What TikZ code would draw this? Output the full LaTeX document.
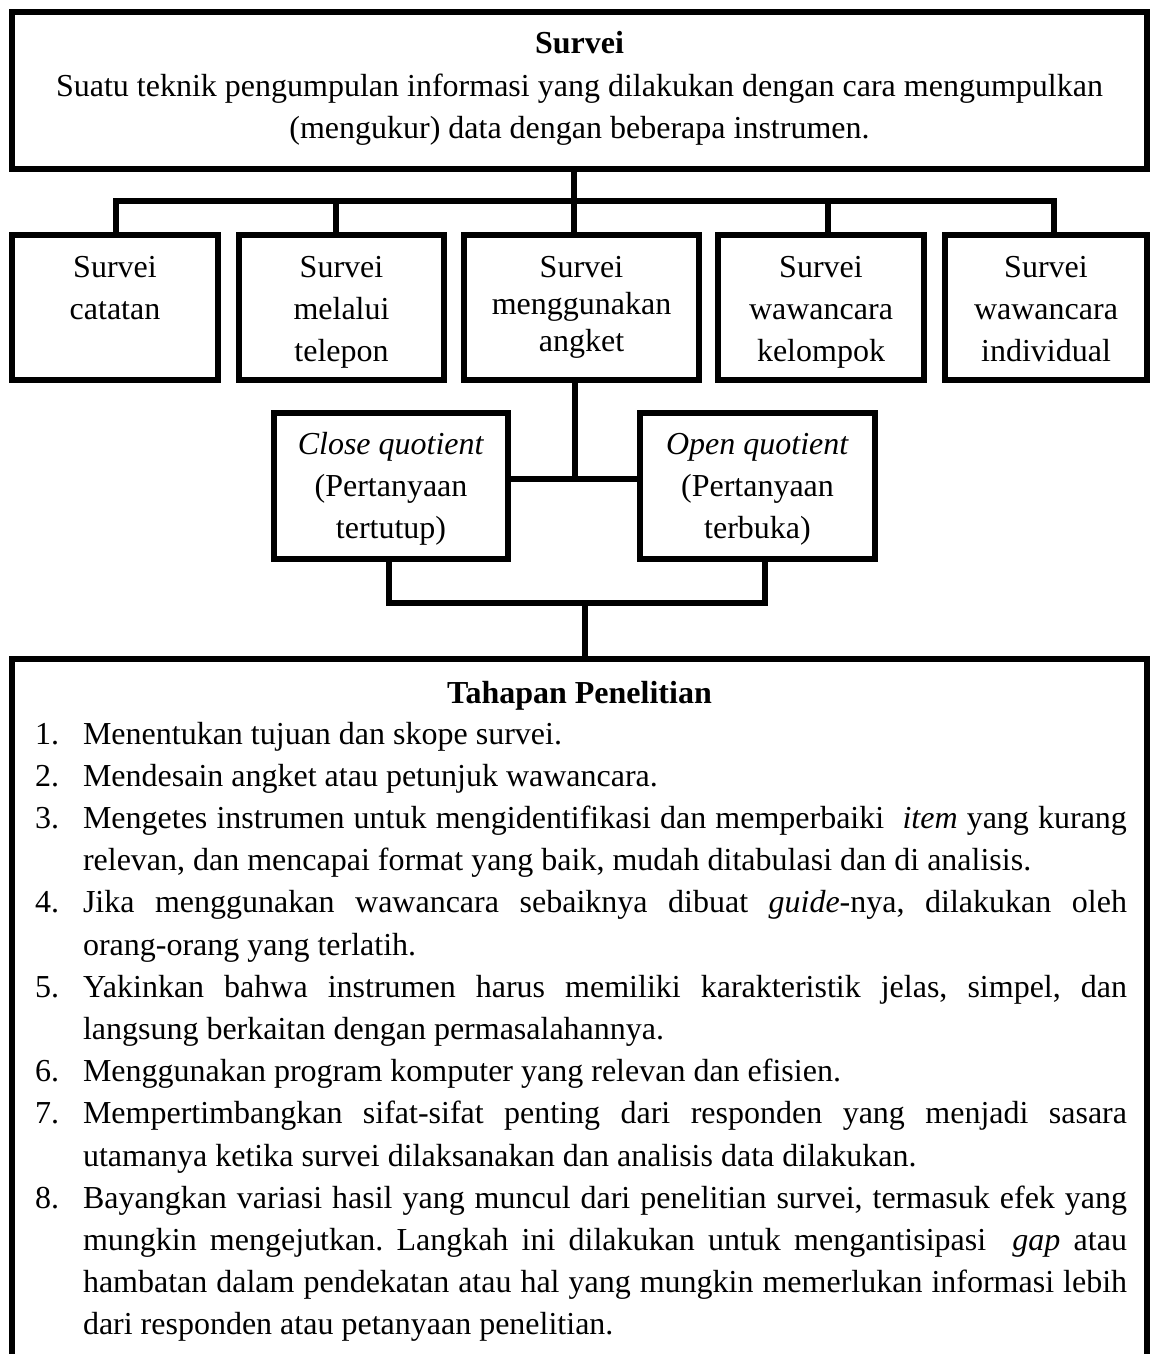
\documentclass[tikz,border=0pt]{standalone}
\usepackage{fontspec}
\setmainfont{Liberation Serif}
\frenchspacing
\tikzset{
  frame/.style={draw, line width=6pt, rectangle, inner sep=0pt, outer sep=0pt},
  conn/.style={draw, line width=6pt, line join=miter},
  lbl/.style={inner sep=0pt, outer sep=0pt, anchor=base, font=\fontsize{32}{42.2}\selectfont},
}
\begin{document}
\begin{tikzpicture}[x=1pt,y=-1pt]
\clip (0,0) rectangle (1150,1354);
\fill[white] (0,0) rectangle (1150,1354);

% boxes
\node[frame, minimum width=1135pt, minimum height=157pt] (survei) at (579.5,90.5) {};
\node[frame, minimum width=206pt, minimum height=145pt] (b1) at (115,307.5) {};
\node[frame, minimum width=205pt, minimum height=145pt] (b2) at (341.5,307.5) {};
\node[frame, minimum width=235pt, minimum height=145pt] (b3) at (581.5,307.5) {};
\node[frame, minimum width=206pt, minimum height=145pt] (b4) at (821,307.5) {};
\node[frame, minimum width=202pt, minimum height=145pt] (b5) at (1046,307.5) {};
\node[frame, minimum width=234pt, minimum height=146pt] (cq) at (391,486) {};
\node[frame, minimum width=235pt, minimum height=146pt] (oq) at (757.5,486) {};
\node[inner sep=0pt, outer sep=0pt, minimum width=1135pt, minimum height=701pt] (bot) at (579.5,1009.5) {};
\draw[conn] (bot.south west) -- (bot.north west) -- (bot.north east) -- (bot.south east);

% connectors
\coordinate (d1) at (116,201);
\coordinate (d2) at (336,201);
\coordinate (d3) at (574,201);
\coordinate (d4) at (828,201);
\coordinate (d5) at (1054,201);
\draw[conn] (b1.north -| d1) -- (d1) -- (d5) -- (b5.north -| d5);
\draw[conn] (survei.south -| d3) -- (b3.north -| d3);
\draw[conn] (d2) -- (b2.north -| d2);
\draw[conn] (d4) -- (b4.north -| d4);

\coordinate (m) at (575,479);
\draw[conn] (b3.south -| m) -- (m);
\draw[conn] (cq.east |- m) -- (oq.west |- m);

\coordinate (jl) at (389,603);
\coordinate (jr) at (765,603);
\coordinate (jc) at (585,603);
\draw[conn] (cq.south -| jl) -- (jl) -- (jr) -- (oq.south -| jr);
\draw[conn] (jc) -- (bot.north -| jc);

% texts
\node[lbl] (tsurvei) at (579.5,54) {\parbox[t]{1130pt}{\centering\textbf{Survei}\\Suatu teknik pengumpulan informasi yang dilakukan dengan cara mengumpulkan\\(mengukur) data dengan beberapa instrumen.}};
\node[lbl] (t1) at (115,277) {\parbox[t]{200pt}{\centering Survei\\catatan}};
\node[lbl] (t2) at (341.5,277) {\parbox[t]{200pt}{\centering Survei\\melalui\\telepon}};
\node[lbl] (t3) at (581.5,277) {\parbox[t]{230pt}{\centering\baselineskip=37pt Survei\\menggunakan\\angket}};
\node[lbl] (t4) at (821,277) {\parbox[t]{200pt}{\centering Survei\\wawancara\\kelompok}};
\node[lbl] (t5) at (1046,277) {\parbox[t]{200pt}{\centering Survei\\wawancara\\individual}};
\node[lbl] (tcq) at (391,454) {\parbox[t]{230pt}{\centering\textit{Close quotient}\\(Pertanyaan\\tertutup)}};
\node[lbl] (toq) at (757.5,454) {\parbox[t]{230pt}{\centering\textit{Open quotient}\\(Pertanyaan\\terbuka)}};

\node[lbl] (ttitle) at (579.5,703) {\textbf{Tahapan Penelitian}};
\node[lbl, anchor=base west] (tlist) at (35,744) {\parbox[t]{1092pt}{%
\hyphenpenalty=10000 \exhyphenpenalty=10000 \tolerance=10000 \parindent=0pt \parskip=0pt
\hangindent=48pt\hangafter=1\makebox[48pt][l]{1.}Menentukan tujuan dan skope survei.\par
\hangindent=48pt\hangafter=1\makebox[48pt][l]{2.}Mendesain angket atau petunjuk wawancara.\par
\hangindent=48pt\hangafter=1\makebox[48pt][l]{3.}Mengetes instrumen untuk mengidentifikasi dan memperbaiki\ \ \textit{item} yang kurang\linebreak relevan, dan mencapai format yang baik, mudah ditabulasi dan di analisis.\par
\hangindent=48pt\hangafter=1\makebox[48pt][l]{4.}Jika menggunakan wawancara sebaiknya dibuat \textit{guide}-nya, dilakukan oleh\linebreak orang-orang yang terlatih.\par
\hangindent=48pt\hangafter=1\makebox[48pt][l]{5.}Yakinkan bahwa instrumen harus memiliki karakteristik jelas, simpel, dan\linebreak langsung berkaitan dengan permasalahannya.\par
\hangindent=48pt\hangafter=1\makebox[48pt][l]{6.}Menggunakan program komputer yang relevan dan efisien.\par
\hangindent=48pt\hangafter=1\makebox[48pt][l]{7.}Mempertimbangkan sifat-sifat penting dari responden yang menjadi sasara\linebreak utamanya ketika survei dilaksanakan dan analisis data dilakukan.\par
\hangindent=48pt\hangafter=1\makebox[48pt][l]{8.}Bayangkan variasi hasil yang muncul dari penelitian survei, termasuk efek yang\linebreak mungkin mengejutkan. Langkah ini dilakukan untuk mengantisipasi\ \ \textit{gap} atau\linebreak hambatan dalam pendekatan atau hal yang mungkin memerlukan informasi lebih\linebreak dari responden atau petanyaan penelitian.\par}};
\end{tikzpicture}
\end{document}
